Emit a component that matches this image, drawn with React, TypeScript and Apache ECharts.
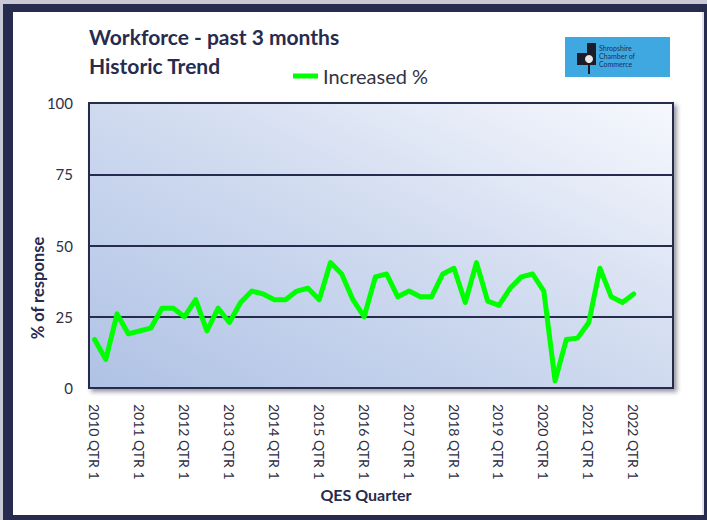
import React, { useEffect, useRef } from "react";
import * as echarts from "echarts";

const years = [2010, 2011, 2012, 2013, 2014, 2015, 2016, 2017, 2018, 2019, 2020, 2021, 2022];
const quarters = [1, 2, 3, 4];
const categories: string[] = years.flatMap((y) => quarters.map((q) => `${y} QTR ${q}`));

const seriesName = "Increased %";
const increasedValues = [
  17, 10, 26, 19,
  20, 21, 28, 28,
  25, 31, 20, 28,
  23, 30, 34, 33,
  31, 31, 34, 35,
  31, 44, 40, 31,
  25, 39, 40, 32,
  34, 32, 32, 40,
  42, 30, 44, 30.5,
  29, 35, 39, 40,
  34, 2.5, 17, 17.5,
  23, 42, 32, 30,
  33,
];

const yTicks = { min: 0, max: 100, interval: 25 };
const titleLines = ["Workforce - past 3 months", "Historic Trend"];
const yAxisName = "% of response";
const xAxisName = "QES Quarter";
const logoLines = ["Shropshire", "Chamber of", "Commerce"];

const FONT = "Lato, 'Open Sans', sans-serif";
const NAVY = "#272b4d";
const TEXT = "#2e2f45";

export default function App() {
  const ref = useRef<HTMLDivElement>(null);

  useEffect(() => {
    if (!ref.current) return;
    const chart = echarts.init(ref.current, null, { renderer: "svg" });
    chart.setOption({
      animation: false,
      backgroundColor: "#ffffff",
      textStyle: { fontFamily: FONT },
      title: {
        text: titleLines.join("\n"),
        left: 89,
        top: 22,
        padding: 0,
        textStyle: {
          fontFamily: FONT,
          fontSize: 21,
          fontWeight: "bold",
          color: NAVY,
          lineHeight: 29,
        },
      },
      legend: {
        left: 293,
        top: 66,
        padding: 0,
        icon: "rect",
        itemWidth: 25,
        itemHeight: 5,
        data: [seriesName],
        textStyle: { fontFamily: FONT, fontSize: 20, color: "#333344" },
      },
      grid: {
        left: 89,
        top: 103,
        right: 34,
        bottom: 132,
        show: true,
        borderColor: NAVY,
        borderWidth: 2,
        backgroundColor: new echarts.graphic.LinearGradient(0, 1, 1, 0, [
          { offset: 0, color: "#afc2e5" },
          { offset: 0.5, color: "#cfdaef" },
          { offset: 1, color: "#f6f8fd" },
        ]),
        shadowColor: "rgba(40,40,60,0.45)",
        shadowBlur: 4,
        shadowOffsetX: 3,
        shadowOffsetY: 3,
      },
      xAxis: {
        type: "category",
        data: categories,
        boundaryGap: true,
        axisLine: { show: false },
        axisTick: { show: false },
        splitLine: { show: false },
        axisLabel: {
          interval: 3,
          rotate: -90,
          margin: 16,
          fontSize: 14,
          color: TEXT,
          fontFamily: FONT,
        },
      },
      yAxis: {
        type: "value",
        min: yTicks.min,
        max: yTicks.max,
        interval: yTicks.interval,
        axisLine: { show: false },
        axisTick: { show: false },
        axisLabel: { fontSize: 15, color: TEXT, margin: 16, fontFamily: FONT },
        splitLine: { show: true, lineStyle: { color: NAVY, width: 2 } },
      },
      series: [
        {
          name: seriesName,
          type: "line",
          data: increasedValues,
          showSymbol: false,
          symbol: "none",
          color: "#00ff00",
          lineStyle: { color: "#00ff00", width: 5, cap: "round", join: "round" },
        },
      ],
      graphic: [
        { type: "rect", left: 0, top: 0, shape: { width: 707, height: 520 }, style: { fill: "#c9c9d6" }, z: -10, silent: true },
        { type: "rect", left: 3, top: 4, shape: { width: 704, height: 516 }, style: { fill: NAVY }, z: -9, silent: true },
        { type: "rect", left: 13, top: 12, shape: { width: 690, height: 503 }, style: { fill: "#ffffff" }, z: -8, silent: true },
        { type: "rect", left: 702, top: 12, shape: { width: 2, height: 503 }, style: { fill: "#e2e2ea" }, z: -7, silent: true },
        {
          type: "text",
          x: 38,
          y: 288,
          rotation: Math.PI / 2,
          style: {
            text: yAxisName,
            fontFamily: FONT,
            fontSize: 16.5,
            fontWeight: "bold",
            fill: NAVY,
            align: "center",
            verticalAlign: "middle",
          },
        },
        {
          type: "text",
          x: 366,
          y: 494,
          style: {
            text: xAxisName,
            fontFamily: FONT,
            fontSize: 16,
            fontWeight: "bold",
            fill: NAVY,
            align: "center",
            verticalAlign: "middle",
          },
        },
        {
          type: "group",
          left: 565,
          top: 37,
          children: [
            { type: "rect", shape: { x: 0, y: 0, width: 105, height: 40 }, style: { fill: "#3fa8e0" } },
            { type: "rect", shape: { x: 22, y: 6, width: 9, height: 22 }, style: { fill: "#1d1d2a" } },
            { type: "rect", shape: { x: 12, y: 16, width: 12, height: 12 }, style: { fill: "#1d1d2a" } },
            { type: "circle", shape: { cx: 24, cy: 22, r: 4 }, style: { fill: "#e8e8e8" } },
            { type: "rect", shape: { x: 23, y: 28, width: 2, height: 9 }, style: { fill: "#1d1d2a" } },
            {
              type: "text",
              x: 34,
              y: 7,
              style: {
                text: logoLines.join("\n"),
                fontFamily: FONT,
                fontSize: 7,
                lineHeight: 8,
                fill: "#203050",
              },
            },
          ],
        },
      ],
    });
    return () => chart.dispose();
  }, []);

  return (
    <div
      ref={ref}
      style={{ position: "absolute", left: 0, top: 0, width: 707, height: 520 }}
    />
  );
}
